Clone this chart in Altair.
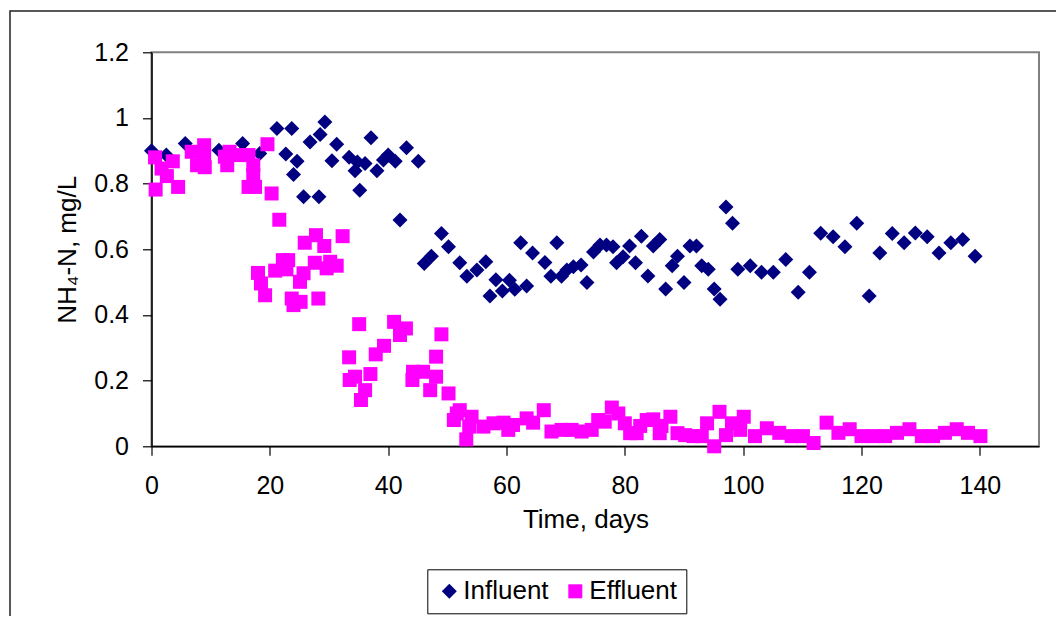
import altair as alt
import pandas as pd

# Influent NH4-N (days, mg/L)
influent_t = [0.0, 2.5, 5.7, 11.4, 15.4, 18.3, 21.2, 22.7, 23.7, 24.0, 24.6, 25.7, 26.8, 28.3, 28.5,
              29.3, 30.5, 31.3, 33.4, 34.4, 34.8, 35.2, 36.1, 37.1, 38.1, 39.2, 40.0, 41.2, 42.0, 43.1,
              45.1, 46.1, 47.3, 49.0, 50.2, 52.1, 53.3, 55.0, 56.5, 57.2, 58.2, 59.3, 60.5, 61.4, 62.4,
              63.4, 64.4, 66.5, 67.5, 68.5, 69.3, 70.2, 71.3, 72.6, 73.6, 74.7, 75.8, 76.9, 78.0, 78.6,
              79.7, 80.8, 81.8, 82.8, 83.9, 84.8, 85.9, 86.9, 88.0, 88.9, 90.0, 91.0, 92.1, 93.0, 94.1,
              95.1, 96.1, 97.1, 98.2, 99.1, 101.2, 103.1, 105.1, 107.2, 109.3, 111.2, 113.1, 115.2, 117.2,
              119.2, 121.3, 123.1, 125.2, 127.2, 129.1, 131.1, 133.1, 135.1, 137.1, 139.2]
influent_v = [0.90, 0.887, 0.922, 0.902, 0.922, 0.892, 0.968, 0.89, 0.968, 0.828, 0.868, 0.76, 0.927, 0.76, 0.95,
              0.988, 0.87, 0.92, 0.88, 0.839, 0.866, 0.78, 0.861, 0.94, 0.839, 0.872, 0.887, 0.868, 0.689, 0.909,
              0.868, 0.557, 0.579, 0.648, 0.608, 0.559, 0.518, 0.537, 0.562, 0.458, 0.507, 0.473, 0.506, 0.478, 0.62,
              0.488, 0.589, 0.56, 0.518, 0.62, 0.518, 0.537, 0.547, 0.552, 0.499, 0.592, 0.613, 0.613, 0.608, 0.559,
              0.577, 0.61, 0.559, 0.64, 0.519, 0.61, 0.63, 0.479, 0.55, 0.579, 0.499, 0.61, 0.61, 0.55, 0.539,
              0.479, 0.448, 0.729, 0.679, 0.539, 0.55, 0.53, 0.53, 0.569, 0.469, 0.53, 0.649, 0.638, 0.608,
              0.679, 0.458, 0.589, 0.648, 0.62, 0.65, 0.638, 0.589, 0.62, 0.63, 0.579]

# Effluent NH4-N (days, mg/L)
effluent_t = [0.6, 0.7, 1.7, 2.6, 3.6, 4.5, 6.8, 7.7, 8.9, 8.9, 9.0, 12.4, 12.8, 13.2, 15.0, 16.4, 16.4,
              17.2, 17.2, 17.5, 18.0, 18.5, 19.2, 19.6, 20.3, 20.9, 21.6, 22.2, 22.8, 23.1, 23.7, 24.0,
              25.1, 25.2, 25.7, 25.9, 27.6, 27.8, 28.2, 29.2, 29.6, 30.2, 31.3, 32.3, 33.4, 33.5, 34.4,
              35.1, 35.4, 36.1, 37.0, 37.9, 39.3, 41.0, 42.0, 43.0, 44.1, 44.2, 45.9, 47.1, 48.1, 48.1,
              49.0, 50.2, 51.1, 51.6, 52.1, 53.2, 53.7, 54.1, 56.1, 57.8, 59.5, 60.3, 61.1, 63.4, 64.5,
              66.3, 67.6, 69.3, 71.0, 72.7, 74.4, 75.5, 76.6, 77.8, 78.9, 80.0, 80.9, 82.0, 82.6, 83.7,
              84.8, 85.9, 86.2, 87.7, 88.9, 90.2, 91.6, 93.0, 93.9, 95.1, 96.0, 97.1, 98.1, 99.5, 100.1,
              102.0, 104.0, 106.1, 108.2, 110.1, 111.9, 114.1, 116.1, 118.0, 120.0, 122.0, 124.0, 126.0,
              128.1, 130.2, 132.1, 134.1, 136.1, 138.0, 140.1]
effluent_v = [0.88, 0.782, 0.846, 0.823, 0.868, 0.79, 0.897, 0.856, 0.917, 0.88, 0.85, 0.882, 0.856, 0.897, 0.887, 0.887, 0.79,
              0.856, 0.826, 0.79, 0.528, 0.496, 0.46, 0.92, 0.77, 0.535, 0.69, 0.567, 0.539, 0.567, 0.45, 0.43,
              0.501, 0.44, 0.527, 0.62, 0.559, 0.643, 0.45, 0.61, 0.542, 0.562, 0.55, 0.64, 0.271, 0.202, 0.212,
              0.372, 0.141, 0.171, 0.22, 0.28, 0.306, 0.379, 0.339, 0.359, 0.202, 0.227, 0.227, 0.171, 0.212, 0.273,
              0.341, 0.161, 0.08, 0.10, 0.11, 0.021, 0.06, 0.09, 0.06, 0.07, 0.072, 0.05, 0.065, 0.085, 0.072,
              0.11, 0.045, 0.05, 0.05, 0.045, 0.05, 0.08, 0.075, 0.118, 0.10, 0.07, 0.04, 0.04, 0.062, 0.08,
              0.082, 0.04, 0.062, 0.09, 0.04, 0.034, 0.031, 0.031, 0.07, 0.0, 0.105, 0.034, 0.07, 0.05, 0.09,
              0.031, 0.055, 0.041, 0.031, 0.031, 0.01, 0.072, 0.041, 0.052, 0.031, 0.031, 0.031, 0.041,
              0.052, 0.031, 0.031, 0.041, 0.052, 0.041, 0.031]

series_names = ["Influent", "Effluent"]
series_colors = ["#000080", "#FF00FF"]
series_shapes = ["diamond", "square"]
x_ticks = [0, 20, 40, 60, 80, 100, 120, 140]
y_ticks = [0, 0.2, 0.4, 0.6, 0.8, 1.0, 1.2]

df = pd.concat([
    pd.DataFrame({"t": influent_t, "v": influent_v, "series": "Influent"}),
    pd.DataFrame({"t": effluent_t, "v": effluent_v, "series": "Effluent"}),
], ignore_index=True)
df["order"] = range(len(df))

FONT = "Liberation Sans"

frame = alt.Chart(pd.DataFrame({"d": [0]})).mark_rect(
    fillOpacity=0, stroke="#222222", strokeWidth=1.5
).encode(
    x=alt.value(-141.5), x2=alt.value(1000), y=alt.value(-41.3), y2=alt.value(700)
)

legend_opts = dict(title=None, orient="none", legendX=275.8, legendY=517, direction="horizontal")

points = alt.Chart(df).mark_point(filled=True, opacity=1, strokeWidth=0).encode(
    x=alt.X("t:Q", scale=alt.Scale(domain=[0, 150], nice=False, zero=False),
            axis=alt.Axis(values=x_ticks, title="Time, days", grid=False, tickSize=9,
                          labelPadding=18, labelFlush=False, labelBaseline="top",
                          titleX=434, titleY=81, titleBaseline="alphabetic", titleAlign="center")),
    y=alt.Y("v:Q", scale=alt.Scale(domain=[0, 1.2], nice=False),
            axis=alt.Axis(values=y_ticks, title="NH₄-N, mg/L", grid=False, tickSize=9,
                          labelPadding=14, labelFlush=False, format="~g",
                          titleX=-76, titleY=197, titleAngle=270, titleBaseline="alphabetic",
                          titleAlign="center")),
    color=alt.Color("series:N", scale=alt.Scale(domain=series_names, range=series_colors),
                    legend=alt.Legend(**legend_opts)),
    shape=alt.Shape("series:N", scale=alt.Scale(domain=series_names, range=series_shapes),
                    legend=alt.Legend(**legend_opts)),
    size=alt.Size("series:N", scale=alt.Scale(domain=series_names, range=[225, 196]), legend=None),
    order=alt.Order("order:Q"),
)

chart = alt.layer(frame, points).properties(
    width=887.5, height=394,
    padding={"left": 143.5, "top": 44.3, "right": 17, "bottom": 169.7},
    autosize=alt.AutoSizeParams(type="none"),
).configure(
    font=FONT, background="white"
).configure_view(
    stroke="#808080", strokeWidth=2
).configure_axis(
    labelFont=FONT, titleFont=FONT, labelFontSize=25, titleFontSize=26,
    labelColor="#000", titleColor="#000", titleFontWeight="normal",
    domainColor="#000", domainWidth=1.5, tickColor="#000", tickWidth=1.2,
).configure_legend(
    labelFont=FONT, labelFontSize=26, labelColor="#000", strokeColor="#000", strokeWidth=1,
    padding=9, symbolSize=178, symbolStrokeWidth=0, labelOffset=1, columnPadding=13,
    labelLimit=400, fillColor="white"
)

chart.save("out.html", embed_options={"renderer": "svg", "actions": False})
